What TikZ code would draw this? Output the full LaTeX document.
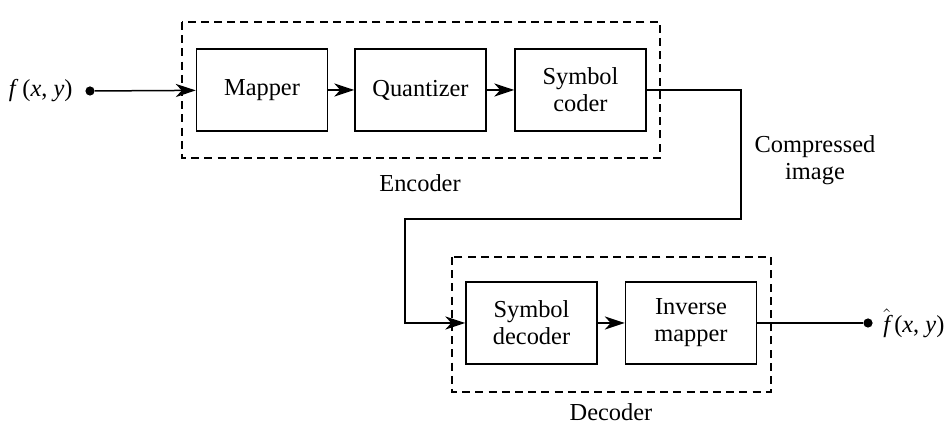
\documentclass[tikz,border=0pt]{standalone}
\usepackage{fontspec}
\setmainfont{Liberation Serif}
\usetikzlibrary{arrows.meta,positioning}

\begin{document}
\begin{tikzpicture}[x=.5pt,y=-.5pt,
  font=\fontsize{12.2}{13.5}\selectfont,
  block/.style={draw,line width=.75pt,minimum width=65.5pt,minimum height=41pt,align=center},
  group/.style={draw,line width=.75pt,dash pattern=on 4pt off 2.6pt},
  dot/.style={circle,fill,inner sep=0pt,minimum size=4.6pt},
  wire/.style={line width=.75pt},
  flow/.style={wire,-{Stealth[length=10pt,width=6.6pt,inset=3pt]}}]
\useasboundingbox (0,0) rectangle (952,431);
% encoder
\draw[group] (182,22) rectangle (660,158);
\foreach \name/\txt/\x in {map/Mapper/262,quant/Quantizer/420.5,coder/{Symbol\\coder}/580.5}
  \node[block] (\name) at (\x,90) {\txt};
\node (enc) at (420,183) {Encoder};
% decoder
\draw[group] (452,257) rectangle (771,392);
\node[block] (sdec) at (531.5,323) {Symbol\\decoder};
\node[block] (invm) at (691,323) {Inverse\\mapper};
\node (dec) at (611,412) {Decoder};
% input / output
\node[dot] (in) at (90,91) {};
\node[left=6pt of in,inner sep=0pt] (inlbl) {\textit{f}\,(\textit{x}, \textit{y})};
\node[dot] (out) at (868,323) {};
\node[right=5pt of out,inner sep=0pt] (outlbl) {$\hat{\textit{f}}$\,(\textit{x}, \textit{y})};
\node[align=center] (comp) at (815,160) {Compressed\\image};
\coordinate (c1) at (741,219);
\coordinate (c2) at (405,219);
\draw[flow] (in) -- (map);
\draw[flow] (map) -- (quant);
\draw[flow] (quant) -- (coder);
\draw[flow] (coder.east) -| (c1) -- (c2) |- (sdec.west);
\draw[flow] (sdec) -- (invm);
\draw[wire] (invm.east) -- (out);
\end{tikzpicture}
\end{document}
